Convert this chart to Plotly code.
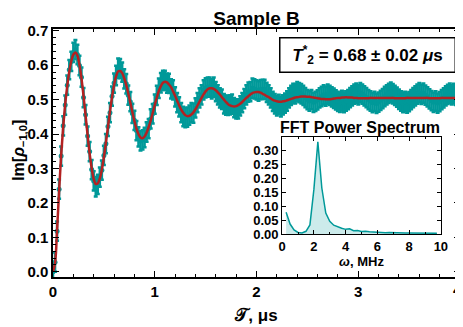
import plotly.graph_objects as go

# time grid, us (one sample every 0.02 us)
t_us = [i / 50 for i in range(201)]

# measured Im[rho_-1,0]
im_rho = [
    0.000, 0.028, 0.118, 0.240, 0.336, 0.424, 0.484, 0.542, 0.587, 0.611,
    0.637, 0.645, 0.631, 0.599, 0.565, 0.506, 0.456, 0.394, 0.349, 0.297,
    0.264, 0.247, 0.254, 0.275, 0.295, 0.338, 0.372, 0.422, 0.462, 0.510,
    0.548, 0.570, 0.591, 0.590, 0.580, 0.560, 0.546, 0.513, 0.494, 0.460,
    0.440, 0.410, 0.392, 0.380, 0.383, 0.390, 0.406, 0.416, 0.444, 0.459,
    0.487, 0.512, 0.533, 0.549, 0.556, 0.556, 0.548, 0.547, 0.531, 0.528,
    0.508, 0.491, 0.479, 0.462, 0.451, 0.448, 0.449, 0.455, 0.462, 0.461,
    0.476, 0.491, 0.505, 0.514, 0.528, 0.534, 0.536, 0.536, 0.531, 0.536,
    0.523, 0.514, 0.505, 0.501, 0.488, 0.484, 0.483, 0.485, 0.487, 0.477,
    0.473, 0.473, 0.482, 0.491, 0.503, 0.514, 0.522, 0.523, 0.533, 0.531,
    0.528, 0.525, 0.529, 0.530, 0.530, 0.521, 0.514, 0.505, 0.495, 0.488,
    0.482, 0.486, 0.479, 0.485, 0.490, 0.496, 0.505, 0.512, 0.518, 0.517,
    0.523, 0.520, 0.517, 0.512, 0.506, 0.500, 0.496, 0.500, 0.492, 0.495,
    0.499, 0.505, 0.509, 0.514, 0.510, 0.516, 0.512, 0.508, 0.504, 0.499,
    0.495, 0.492, 0.498, 0.491, 0.496, 0.500, 0.506, 0.511, 0.516, 0.519,
    0.514, 0.520, 0.516, 0.511, 0.506, 0.500, 0.496, 0.491, 0.495, 0.489,
    0.493, 0.498, 0.503, 0.509, 0.514, 0.518, 0.522, 0.517, 0.512, 0.507,
    0.501, 0.496, 0.491, 0.495, 0.490, 0.494, 0.500, 0.506, 0.511, 0.516,
    0.520, 0.515, 0.519, 0.513, 0.508, 0.502, 0.497, 0.492, 0.496, 0.490,
    0.494, 0.500, 0.505, 0.511, 0.515, 0.519, 0.514, 0.518, 0.512, 0.507,
    0.502,
]
im_err = 0.028

# damped-oscillation fit
im_fit = [
    0.000, 0.025, 0.122, 0.235, 0.338, 0.420, 0.487, 0.540, 0.582, 0.612,
    0.631, 0.637, 0.628, 0.601, 0.561, 0.511, 0.454, 0.397, 0.344, 0.301,
    0.270, 0.255, 0.257, 0.271, 0.297, 0.333, 0.375, 0.420, 0.466, 0.507,
    0.542, 0.568, 0.582, 0.583, 0.577, 0.562, 0.542, 0.518, 0.491, 0.464,
    0.438, 0.416, 0.400, 0.390, 0.388, 0.393, 0.404, 0.420, 0.439, 0.461,
    0.484, 0.506, 0.525, 0.539, 0.549, 0.552, 0.550, 0.544, 0.536, 0.524,
    0.511, 0.497, 0.483, 0.471, 0.462, 0.455, 0.452, 0.453, 0.457, 0.463,
    0.472, 0.483, 0.494, 0.505, 0.515, 0.524, 0.530, 0.533, 0.533, 0.531,
    0.527, 0.521, 0.515, 0.507, 0.500, 0.493, 0.487, 0.483, 0.481, 0.480,
    0.481, 0.484, 0.488, 0.493, 0.499, 0.505, 0.510, 0.515, 0.519, 0.521,
    0.522, 0.522, 0.520, 0.517, 0.514, 0.510, 0.507, 0.503, 0.499, 0.497,
    0.495, 0.494, 0.494, 0.495, 0.496, 0.498, 0.500, 0.502, 0.504, 0.506,
    0.507, 0.508, 0.509, 0.509, 0.509, 0.508, 0.508, 0.507, 0.506, 0.505,
    0.504, 0.503, 0.502, 0.502, 0.501, 0.501, 0.501, 0.502, 0.503, 0.504,
    0.505, 0.505, 0.506, 0.506, 0.507, 0.506, 0.506, 0.506, 0.505, 0.505,
    0.504, 0.504, 0.504, 0.504, 0.504, 0.504, 0.505, 0.505, 0.505, 0.505,
    0.505, 0.505, 0.505, 0.505, 0.505, 0.505, 0.505, 0.505, 0.504, 0.504,
    0.504, 0.504, 0.504, 0.504, 0.505, 0.505, 0.505, 0.505, 0.505, 0.505,
    0.505, 0.505, 0.505, 0.505, 0.505, 0.504, 0.504, 0.504, 0.504, 0.504,
    0.504, 0.505, 0.505, 0.505, 0.505, 0.505, 0.505, 0.505, 0.505, 0.505,
    0.505,
]

# FFT power spectrum (inset)
fft_mhz = [
    0.25, 0.50, 0.75, 1.00, 1.25, 1.50, 1.75, 2.00, 2.25, 2.50,
    2.75, 3.00, 3.25, 3.50, 3.75, 4.00, 4.25, 4.50, 4.75, 5.00,
    5.25, 5.50, 5.75, 6.00, 6.25, 6.50, 6.75, 7.00, 7.25, 7.50,
    7.75, 8.00, 8.25, 8.50, 8.75, 9.00, 9.25, 9.50, 9.75,
]
fft_power = [
    0.078, 0.036, 0.015, 0.006, 0.004, 0.010, 0.033, 0.160, 0.330, 0.165,
    0.075, 0.046, 0.032, 0.025, 0.021, 0.017, 0.019, 0.012, 0.013, 0.009,
    0.010, 0.008, 0.007, 0.006, 0.006, 0.005, 0.006, 0.005, 0.004, 0.005,
    0.004, 0.004, 0.004, 0.003, 0.004, 0.003, 0.003, 0.003, 0.003,
]

# main x tick labels
x_ticks = [0, 1, 2, 3, 4]

TEAL = "#009999"
RED = "#B22222"
FONT = "Liberation Sans"

fig = go.Figure()

fig.add_trace(go.Scatter(
    x=t_us, y=im_rho, mode="markers",
    marker=dict(color=TEAL, size=5),
    error_y=dict(type="constant", value=im_err, color=TEAL, thickness=2.5, width=2),
    showlegend=False,
))
fig.add_trace(go.Scatter(
    x=t_us, y=im_fit, mode="lines",
    line=dict(color=RED, width=2.5, shape="spline"),
    showlegend=False,
))
fig.add_trace(go.Scatter(
    x=fft_mhz, y=fft_power, mode="lines",
    line=dict(color=TEAL, width=1.5),
    fill="tozeroy", fillcolor="rgba(0,153,153,0.2)",
    xaxis="x2", yaxis="y2", showlegend=False,
))

tick_font = dict(family=FONT, size=15, color="black", weight="bold")
small_font = dict(family=FONT, size=13, color="black", weight="bold")

frame = dict(
    showline=True, linecolor="black", mirror="allticks", automargin=False,
    ticks="inside", tickcolor="black", showgrid=False, zeroline=False,
)

# the page body adds an 8px offset, so the figure is 8px smaller than the window
fig.update_layout(
    width=455, height=319,
    margin=dict(l=45, r=3, t=21, b=50, autoexpand=False),
    paper_bgcolor="white", plot_bgcolor="white",
    title=dict(text="Sample B", xref="paper", x=0.5, xanchor="center",
               yref="container", y=1.0, yanchor="top", pad=dict(t=4),
               font=dict(family=FONT, size=19, color="black", weight="bold")),
    xaxis=dict(
        **frame, linewidth=1.5, range=[0, 4], tickvals=x_ticks[:-1], ticklen=6,
        tickfont=tick_font,
        minor=dict(dtick=0.2, ticklen=3, ticks="inside", tickcolor="black"),
        title=dict(text="𝒯, μs", font=dict(family=FONT, size=17, color="black", weight="bold"),
                   standoff=10),
    ),
    yaxis=dict(
        **frame, linewidth=1.5, range=[-0.015, 0.705], dtick=0.1, tickformat=".1f",
        ticklen=6, tickfont=tick_font,
        minor=dict(dtick=0.02, ticklen=3, ticks="inside", tickcolor="black"),
    ),
    xaxis2=dict(
        **frame, linewidth=1, domain=[0.563, 0.953], anchor="y2", range=[0, 10],
        dtick=2, ticklen=4, tickfont=small_font,
        minor=dict(dtick=1, ticklen=2, ticks="inside", tickcolor="black"),
        title=dict(text="<i>ω</i>, MHz", font=small_font, standoff=2),
    ),
    yaxis2=dict(
        **frame, linewidth=1, domain=[0.173, 0.565], anchor="x2", range=[0, 0.348],
        dtick=0.05, tickformat=".2f", ticklen=4, tickfont=small_font,
    ),
    annotations=[
        # last x tick label sits on the right edge, plotly would drop it
        dict(text=str(x_ticks[-1]), xref="x", yref="paper", x=x_ticks[-1], y=0,
             xanchor="right", yanchor="top", xshift=4, yshift=-2, showarrow=False,
             font=tick_font),
        dict(text="Im[<i>ρ</i><sub>−1,0</sub>]", textangle=-90,
             xref="paper", yref="paper", x=-0.111, y=0.51,
             xanchor="left", yanchor="middle", showarrow=False,
             font=dict(family=FONT, size=16, color="black", weight="bold")),
        dict(text="<i>T</i><sup>*</sup><sub>2</sub> = 0.68 ± 0.02 <i>μ</i>s",
             xref="paper", yref="paper", x=0.773, y=0.897,
             xanchor="center", yanchor="middle", showarrow=False,
             width=170, height=29, borderpad=2,
             bordercolor="black", borderwidth=1.5, bgcolor="white",
             font=dict(family=FONT, size=17, color="black", weight="bold")),
        dict(text="FFT Power Spectrum", xref="paper", yref="paper",
             x=0.754, y=0.601, xanchor="center", yanchor="middle", showarrow=False,
             font=dict(family=FONT, size=16, color="black", weight="bold")),
    ],
)

fig.write_html("out.html")
